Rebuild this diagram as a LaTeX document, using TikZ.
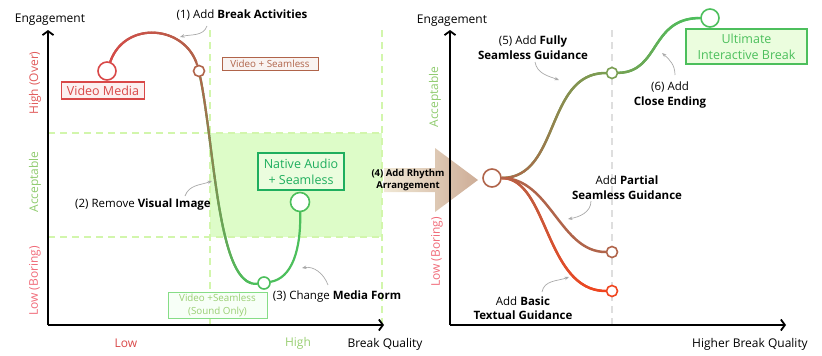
\documentclass[tikz,border=0pt]{standalone}
\usepackage{fontspec}
\setmainfont{Open Sans}
\usetikzlibrary{arrows.meta,decorations.markings}
\pgfdeclarelayer{back}\pgfdeclarelayer{mid}
\pgfsetlayers{back,mid,main}
\definecolor{cRed}{HTML}{D94848}
\definecolor{cBrown}{HTML}{B0644A}
\definecolor{cGreen}{HTML}{4CBF5C}
\definecolor{cOlive}{HTML}{7A9E52}
\definecolor{cOrange}{HTML}{F0451F}
\definecolor{cDash}{HTML}{D2F6AC}
\definecolor{cZone}{HTML}{DDFCC8}
\definecolor{cGray}{HTML}{A9A9A9}
\definecolor{cAcc}{HTML}{8FCB6E}
\definecolor{cLow}{HTML}{F06A78}
\definecolor{cHigh}{HTML}{E05A5A}
\definecolor{cDeep}{HTML}{1FAE5E}
\definecolor{cSoft}{HTML}{86DD86}
\definecolor{cSoftTxt}{HTML}{9ACF74}
\definecolor{cArrL}{HTML}{EFE6D2}
\definecolor{cArrR}{HTML}{C9A68E}
\definecolor{cGrayDash}{HTML}{DEDEDE}
\newcommand\gradpart[3]{\foreach \i in {1,...,39}{\pgfmathtruncatemacro\j{\i+1}\pgfmathtruncatemacro\p{100*\i/40}\draw[curve,draw=#3!\p!#2] (#1-\i) -- (#1-\j);}}
\tikzset{
  curve/.style={line width=2.2pt, line cap=round},
  dot/.style={circle, draw, fill=white, line width=1.6pt, inner sep=0pt},
  bdot/.style={dot, minimum size=18pt},
  sdot/.style={dot, minimum size=11pt},
  note/.style={font=\fontsize{11.5}{14.5}\selectfont, align=center, inner sep=0pt},
  pointer/.style={draw=cGray, line width=0.7pt, -{Stealth[length=4.5pt,width=3.5pt]}},
  axisline/.style={line width=1.8pt, -{Straight Barb[length=4pt,width=11pt]}},
  gmark/.style={postaction={decorate,decoration={markings,mark=between positions 0 and 1 step 0.025 with {\coordinate (#1-\pgfkeysvalueof{/pgf/decoration/mark info/sequence number});}}}},
  tag/.style={draw, line width=1.2pt, inner sep=0pt, align=center},
  gdash/.style={draw=cDash, line width=2.6pt, dash pattern=on 7pt off 5pt},
  ylab/.style={rotate=90, font=\fontsize{12}{14}\selectfont},
  axlab/.style={font=\fontsize{12}{14}\selectfont}
}
\begin{document}
\begin{tikzpicture}[x=1pt,y=-1pt]
\useasboundingbox (0,0) rectangle (822,356);
% ---------- left chart ----------
\coordinate (lo) at (48,325);
\coordinate (ly) at (48,30);
\coordinate (lx) at (384,325);
\begin{pgfonlayer}{back}
\fill[cZone] (210,133) rectangle (382,237);
\draw[gdash] (210,30) -- (210,325);
\draw[gdash] (382,30) -- (382,325);
\draw[gdash] (48,133) -- (382,133);
\draw[gdash] (48,237) -- (382,237);
\draw[cGrayDash, line width=2.5pt, dash pattern=on 7pt off 5pt] (612,30) -- (612,325);
\end{pgfonlayer}
\draw[axisline] (lo) -- (ly);
\draw[axisline] (lo) -- (lx);
\node[axlab] (le) at (50,20) {Engagement};
\node[axlab] (lbq) at (385,344) {Break Quality};
\node[axlab, text=cRed] (llow) at (126,343) {Low};
\node[axlab, text=cSoftTxt] (lhigh) at (298,343) {High};
\node[ylab, text=cHigh] (lyh) at (35,83) {High (Over)};
\node[ylab, text=cAcc] (lya) at (35,182) {Acceptable};
\node[ylab, text=cLow] (lyl) at (35,281) {Low (Boring)};

\node[bdot, draw=cRed] (vm) at (107,71) {};
\node[sdot, draw=cBrown] (vs) at (199,71) {};
\node[sdot, draw=cGreen, minimum size=12pt] (so) at (264,283) {};
\node[bdot, draw=cGreen, minimum size=19pt] (na) at (300,202) {};

\node[tag, draw=cRed, fill=cRed!8, text=cRed, minimum width=83pt, minimum height=17pt, font=\fontsize{12.5}{14}\selectfont] (tvm) at (103,90.5) {Video Media};
\node[tag, draw=cBrown, fill=cBrown!8, text=cBrown, line width=1pt, minimum width=96pt, minimum height=13pt, font=\fontsize{9.8}{11}\selectfont] (tvs) at (270,64) {Video + Seamless};
\node[tag, draw=cDeep, fill=cZone!60, text=cDeep, line width=2pt, minimum width=86pt, minimum height=37pt, font=\fontsize{12.5}{16}\selectfont] (tna) at (301,171.5) {Native Audio\\+ Seamless};
\node[tag, draw=cSoft, fill=green!3, text=cSoftTxt, line width=1pt, minimum width=99pt, minimum height=26pt, font=\fontsize{9.8}{12.5}\selectfont] (tso) at (217.5,305.5) {Video +Seamless\\(Sound Only)};

\node[note] (n1) at (242,15) {(1) Add \textbf{Break Activities}};
\node[note] (n2) at (143,205) {(2) Remove \textbf{Visual Image}};
\node[note] (n3) at (337,297) {(3) Change \textbf{Media Form}};
\coordinate (p1s) at (207,26); \coordinate (p1e) at (180,37);
\coordinate (p2s) at (185,196); \coordinate (p2e) at (212,181);
\coordinate (p3s) at (328,285); \coordinate (p3e) at (302,268);
\draw[pointer] (p1s) to[out=-110, in=15] (p1e);
\draw[pointer] (p2s) to[out=70, in=200] (p2e);
\draw[pointer] (p3s) to[out=110, in=10] (p3e);

% ---------- right chart ----------
\coordinate (ro) at (450,325);
\coordinate (ry) at (450,30);
\coordinate (rx) at (786,325);
\begin{pgfonlayer}{mid}
\shade[left color=cArrL, right color=cArrR, fill opacity=0.92] (384,168) -- (435,168) -- (435,148) -- (478,180) -- (435,212) -- (435,192) -- (384,192) -- cycle;
\end{pgfonlayer}
\draw[axisline] (ro) -- (ry);
\draw[axisline] (ro) -- (rx);
\node[font=\bfseries\fontsize{9.5}{12.5}\selectfont, align=center, inner sep=0pt] (n4) at (408,180) {(4) Add Rhythm\\Arrangement};
\node[axlab] (re) at (452,21) {Engagement};
\node[axlab] (rbq) at (750,344) {Higher Break Quality};
\node[ylab, text=cAcc] (rya) at (435,97) {Acceptable};
\node[ylab, text=cLow] (ryl) at (437,252) {Low (Boring)};

\node[bdot, draw=cBrown] (rs) at (492,178) {};
\node[sdot, draw=cOlive] (m1) at (612,73) {};
\node[bdot, draw=cGreen] (ub) at (710,18) {};
\node[sdot, draw=cBrown] (pm) at (612,252) {};
\node[sdot, draw=cOrange] (bm) at (612,291) {};

\node[tag, draw=cGreen, fill=cZone!60, text=cGreen, line width=2pt, minimum width=121pt, minimum height=35pt, font=\fontsize{12.5}{16}\selectfont] (tub) at (746.5,46.5) {Ultimate\\Interactive Break};

\node[note] (n5) at (533,47.5) {(5) Add \textbf{Fully}\\\textbf{Seamless Guidance}};
\node[note] (n6) at (670,95) {(6) Add\\\textbf{Close Ending}};
\node[note] (n7) at (627,187.5) {Add \textbf{Partial}\\\textbf{Seamless Guidance}};
\node[note] (n8) at (523,308) {Add \textbf{Basic}\\\textbf{Textual Guidance}};
\coordinate (p5s) at (535,62); \coordinate (p5e) at (559,80);
\coordinate (p6s) at (675,75); \coordinate (p6e) at (662,53);
\coordinate (p7s) at (591,201); \coordinate (p7e) at (568,219);
\coordinate (p8s) at (542,292); \coordinate (p8e) at (569,277);
\draw[pointer] (p5s) to[out=-80, in=160] (p5e);
\draw[pointer] (p6s) to[out=90, in=-40] (p6e);
\draw[pointer] (p7s) to[out=-90, in=10] (p7e);
\draw[pointer] (p8s) to[out=80, in=200] (p8e);

% ---------- curves ----------
\begin{pgfonlayer}{mid}
\draw[curve, draw=cBrown, gmark=g1] (vm) .. controls (125,20) and (185,25) .. (vs);
\gradpart{g1}{cRed}{cBrown}
\draw[curve, draw=cGreen, gmark=g2] (vs) .. controls (215,150) and (218,288) .. (so);
\gradpart{g2}{cBrown}{cGreen}
\draw[curve, draw=cGreen] (so) .. controls (292,278) and (301,250) .. (na);
\draw[curve, line width=2.5pt, draw=cOlive, gmark=g3] (rs) .. controls (560,178) and (545,73) .. (m1);
\gradpart{g3}{cBrown}{cOlive}
\draw[curve, line width=2.5pt, draw=cGreen, gmark=g4] (m1) .. controls (660,72) and (650,18) .. (ub);
\gradpart{g4}{cOlive}{cGreen}
\draw[curve, line width=2.5pt, draw=cBrown] (rs) .. controls (550,178) and (560,252) .. (pm);
\draw[curve, line width=2.5pt, draw=cOrange, gmark=g5] (rs) .. controls (548,178) and (545,291) .. (bm);
\gradpart{g5}{cBrown}{cOrange}
\end{pgfonlayer}
\end{tikzpicture}
\end{document}
